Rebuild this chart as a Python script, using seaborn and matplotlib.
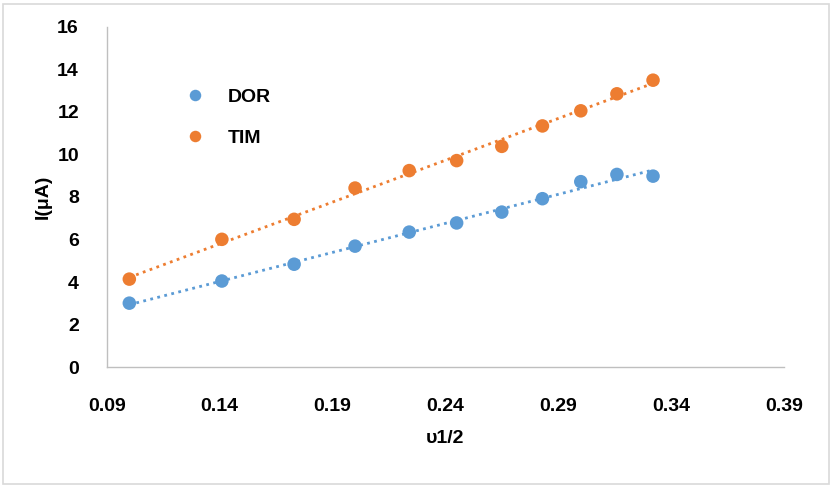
import numpy as np
import pandas as pd
import seaborn as sns
import matplotlib.pyplot as plt
from matplotlib.patches import Rectangle

# square root of scan rate
v_half = [0.100, 0.141, 0.173, 0.200, 0.224, 0.245, 0.265, 0.283, 0.300, 0.316, 0.332]
dor = [3.01, 4.05, 4.84, 5.69, 6.35, 6.78, 7.29, 7.92, 8.72, 9.06, 8.98]
tim = [4.14, 6.01, 6.95, 8.42, 9.24, 9.71, 10.38, 11.34, 12.05, 12.85, 13.49]

blue = "#5B9BD5"
orange = "#ED7D31"

df = pd.DataFrame({"v": v_half * 2,
                   "I": dor + tim,
                   "drug": ["DOR"] * len(dor) + ["TIM"] * len(tim)})

sns.set_style("white")
plt.rcParams['font.family'] = ['Liberation Sans', 'DejaVu Sans']
plt.rcParams['font.weight'] = 'bold'
plt.rcParams['text.color'] = 'black'
plt.rcParams['axes.labelcolor'] = 'black'
plt.rcParams['xtick.color'] = 'black'
plt.rcParams['ytick.color'] = 'black'

fig = plt.figure(figsize=(8.34, 4.87), dpi=100)
ax = fig.add_axes([0.128, 0.246, 0.812, 0.699])

# dotted linear trend lines
for name, col in [("DOR", blue), ("TIM", orange)]:
    sub = df[df.drug == name]
    sns.regplot(x="v", y="I", data=sub, ax=ax, scatter=False, ci=None,
                truncate=True, label="_nolegend_",
                line_kws=dict(color=col, lw=2, linestyle=(0, (1, 1.6))))

sns.scatterplot(x="v", y="I", hue="drug", data=df, ax=ax,
                palette={"DOR": blue, "TIM": orange}, s=95,
                edgecolor="none", zorder=3)

fs = 14
ax.set_xlim(0.09, 0.39)
ax.set_ylim(0, 16)
ax.set_xticks([0.09, 0.14, 0.19, 0.24, 0.29, 0.34, 0.39])
ax.set_xticklabels(["0.09", "0.14", "0.19", "0.24", "0.29", "0.34", "0.39"])
ax.set_yticks(range(0, 17, 2))
ax.tick_params(length=0, labelsize=fs)
ax.tick_params(axis="x", pad=22)
ax.tick_params(axis="y", pad=20)
for lab in ax.get_xticklabels() + ax.get_yticklabels():
    lab.set_fontweight("bold")

for s in ["top", "right"]:
    ax.spines[s].set_visible(False)
for s in ["left", "bottom"]:
    ax.spines[s].set_color("#BFBFBF")
    ax.spines[s].set_linewidth(1)

ax.set_xlabel("υ1/2", fontsize=fs, fontweight="bold", labelpad=11)
ax.set_ylabel("I(μA)", fontsize=fs, fontweight="bold", labelpad=4)

leg = ax.legend(loc="upper left", bbox_to_anchor=(0.076, 0.87), frameon=False,
                fontsize=fs, labelspacing=1.2, handletextpad=0.7, markerscale=0.85)
for t in leg.get_texts():
    t.set_fontweight("bold")

fig.patches.append(Rectangle((0.004, 0.006), 0.99, 0.986, transform=fig.transFigure,
                             fill=False, edgecolor="#D9D9D9", lw=1.2))

plt.savefig("out.png", dpi=100)
